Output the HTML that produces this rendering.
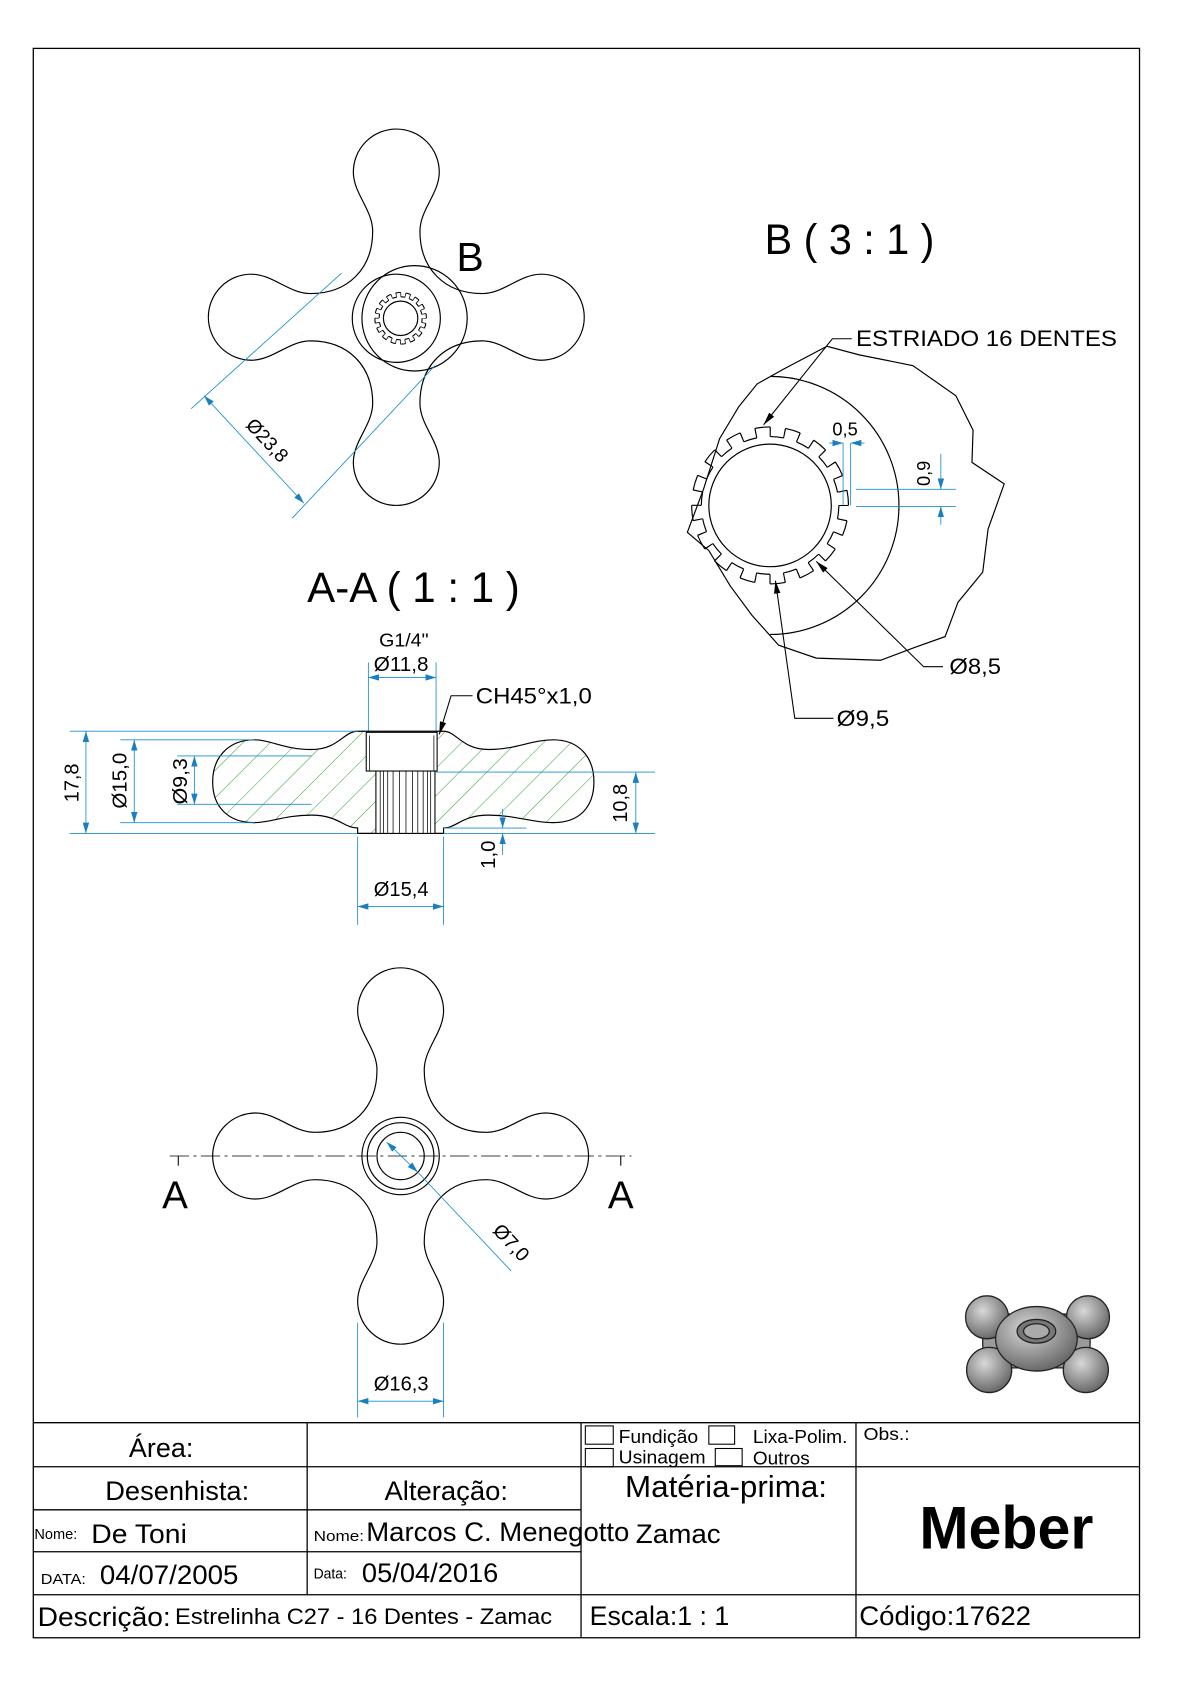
<!DOCTYPE html>
<html><head><meta charset="utf-8"><style>
html,body{margin:0;padding:0;background:#fff}
svg{display:block}
text{font-family:"Liberation Sans",Arial,sans-serif;fill:#000}
.b{fill:none;stroke:#000;stroke-width:1.1}
.d{fill:none;stroke:#1a8fd0;stroke-width:0.8}
</style></head><body>
<svg width="1190" height="1684" viewBox="0 0 1108 1566" preserveAspectRatio="none" xmlns="http://www.w3.org/2000/svg">
<defs>
<marker id="ar" viewBox="0 0 10 6" refX="10" refY="3" markerWidth="10" markerHeight="6" orient="auto-start-reverse" markerUnits="userSpaceOnUse"><path d="M0,0 L10,3 L0,6 Z" fill="#1a7fc0"/></marker>
<marker id="ak" viewBox="0 0 12 6" refX="12" refY="3" markerWidth="12" markerHeight="6" orient="auto" markerUnits="userSpaceOnUse"><path d="M0,0 L12,3 L0,6 Z" fill="#000"/></marker>
<pattern id="h" width="18" height="18" patternUnits="userSpaceOnUse" patternTransform="rotate(45)"><line x1="0" y1="0" x2="0" y2="18" stroke="#2a9a2a" stroke-width="0.9"/></pattern>
<path id="q" d="M0,-175 A40,40 0 0 1 40,-135 C40,-115 22,-100 22,-80 C22,-45 45,-22 80,-22 C100,-22 115,-40 135,-40 A40,40 0 0 1 175,0"/>
<radialGradient id="g3" cx="40%" cy="35%" r="65%"><stop offset="0" stop-color="#d8d8d8"/><stop offset="1" stop-color="#6a6a6a"/></radialGradient>
</defs>
<rect x="31" y="45" width="1030" height="1478" fill="none" stroke="#000" stroke-width="1.2"/>

<!-- Top view -->
<g transform="translate(369,295)" class="b">
<use href="#q"/><use href="#q" transform="rotate(90)"/><use href="#q" transform="rotate(180)"/><use href="#q" transform="rotate(270)"/>
</g>
<circle cx="369" cy="296" r="41" class="b"/>
<circle cx="386" cy="296" r="49" class="b"/>
<circle cx="373" cy="296" r="16" class="b"/>
<circle cx="373" cy="296" r="20" fill="none" stroke="#000" stroke-width="1" stroke-dasharray="3.93 3.93"/>
<circle cx="373" cy="296" r="24" fill="none" stroke="#000" stroke-width="1" stroke-dasharray="4.71 4.71" stroke-dashoffset="-4.71"/>
<circle cx="373" cy="296" r="22" fill="none" stroke="#000" stroke-width="4" stroke-dasharray="0.7 3.62" stroke-dashoffset="0.35"/>
<text x="425" y="252" font-size="38">B</text>
<line x1="178" y1="380" x2="318" y2="254" class="d"/>
<line x1="272" y1="482" x2="405" y2="340" class="d"/>
<line x1="190" y1="368" x2="283" y2="468" class="d" marker-start="url(#ar)" marker-end="url(#ar)"/>
<text transform="translate(228,396) rotate(47)" font-size="18" textLength="48" lengthAdjust="spacingAndGlyphs">Ø23,8</text>

<!-- B detail -->
<text x="712" y="236" font-size="40" textLength="158" lengthAdjust="spacingAndGlyphs">B ( 3 : 1 )</text>
<polygon class="b" points="688,378 705,357 730,343 770,322 800,330 850,340 890,368 906,400 905,430 935,450 920,492 915,532 892,560 880,592 852,602 820,614 760,612 725,600 700,572 680,545 660,512 640,495 655,455 670,408"/>
<path class="b" d="M717,350 A120,120 0 0 1 717,590"/>
<circle cx="717" cy="470" r="57" class="b"/>
<circle cx="717" cy="470" r="64" fill="none" stroke="#000" stroke-width="1.1" stroke-dasharray="12.57 12.57"/>
<circle cx="717" cy="470" r="73" fill="none" stroke="#000" stroke-width="1.1" stroke-dasharray="14.33 14.33" stroke-dashoffset="-14.33"/>
<circle cx="717" cy="470" r="68.5" fill="none" stroke="#000" stroke-width="9" stroke-dasharray="1.1 12.35" stroke-dashoffset="0.55"/>
<text x="797" y="322" font-size="21" textLength="243" lengthAdjust="spacingAndGlyphs">ESTRIADO 16 DENTES</text>
<polyline points="793,315 775,315 711,395" fill="none" stroke="#000" stroke-width="1" marker-end="url(#ak)"/>
<text x="884" y="627" font-size="21" textLength="48" lengthAdjust="spacingAndGlyphs">Ø8,5</text>
<polyline points="878,620 860,620 760,522" fill="none" stroke="#000" stroke-width="1" marker-end="url(#ak)"/>
<text x="779" y="675" font-size="21" textLength="49" lengthAdjust="spacingAndGlyphs">Ø9,5</text>
<polyline points="776,668 740,668 722,540" fill="none" stroke="#000" stroke-width="1" marker-end="url(#ak)"/>
<line x1="785" y1="412" x2="785" y2="470" class="d"/>
<line x1="792" y1="412" x2="792" y2="470" class="d"/>
<line x1="772" y1="412" x2="785" y2="412" class="d" marker-end="url(#ar)"/>
<line x1="805" y1="412" x2="792" y2="412" class="d" marker-end="url(#ar)"/>
<text x="775" y="405" font-size="17">0,5</text>
<line x1="797" y1="455" x2="890" y2="455" class="d"/>
<line x1="797" y1="471" x2="890" y2="471" class="d"/>
<line x1="876" y1="422" x2="876" y2="455" class="d" marker-end="url(#ar)"/>
<line x1="876" y1="488" x2="876" y2="471" class="d" marker-end="url(#ar)"/>
<text transform="translate(866,452) rotate(-90)" font-size="17">0,9</text>

<!-- Section A-A -->
<text x="286" y="560" font-size="40" textLength="198" lengthAdjust="spacingAndGlyphs">A-A ( 1 : 1 )</text>
<text x="353" y="601" font-size="17" textLength="46" lengthAdjust="spacingAndGlyphs">G1/4"</text>
<text x="348" y="624" font-size="19" textLength="51" lengthAdjust="spacingAndGlyphs">Ø11,8</text>
<line x1="343" y1="616" x2="343" y2="680" class="d"/>
<line x1="406" y1="616" x2="406" y2="680" class="d"/>
<line x1="343" y1="630" x2="406" y2="630" class="d" marker-start="url(#ar)" marker-end="url(#ar)"/>
<text x="443" y="654" font-size="21" textLength="108" lengthAdjust="spacingAndGlyphs">CH45°x1,0</text>
<polyline points="440,647 420,647 409,683" fill="none" stroke="#000" stroke-width="1" marker-end="url(#ak)"/>
<path d="M333,680 L413,680 C425,680 430,697 455,697 C480,697 495,688 515,688 C540,688 553,705 553,727 C553,750 540,765 515,765 C495,765 480,758 455,758 C430,758 425,770 413,770 L413,775 L333,775 L333,770 C320,770 315,758 290,758 C265,758 252,765 237,765 C212,765 198,750 198,727 C198,705 212,688 237,688 C252,688 265,697 290,697 C315,697 320,680 333,680 Z" fill="url(#h)" stroke="#000" stroke-width="1.1"/>
<rect x="341" y="681" width="66" height="36" fill="#fff" stroke="#000" stroke-width="1"/>
<line x1="344" y1="684" x2="344" y2="717" stroke="#000" stroke-width="0.7"/>
<line x1="404" y1="684" x2="404" y2="717" stroke="#000" stroke-width="0.7"/>
<rect x="350" y="717" width="55" height="58" fill="#fff" stroke="#000" stroke-width="1"/>
<g stroke="#000" stroke-width="0.7">
<line x1="354" y1="717" x2="354" y2="775"/><line x1="357" y1="717" x2="357" y2="775"/><line x1="361" y1="717" x2="361" y2="775"/><line x1="366" y1="717" x2="366" y2="775"/><line x1="372" y1="717" x2="372" y2="775"/><line x1="378" y1="717" x2="378" y2="775"/><line x1="384" y1="717" x2="384" y2="775"/><line x1="389" y1="717" x2="389" y2="775"/><line x1="394" y1="717" x2="394" y2="775"/><line x1="398" y1="717" x2="398" y2="775"/><line x1="401" y1="717" x2="401" y2="775"/>
</g>
<line x1="65" y1="680" x2="333" y2="680" class="d"/>
<line x1="65" y1="775" x2="333" y2="775" class="d"/>
<line x1="112" y1="688" x2="237" y2="688" class="d"/>
<line x1="112" y1="765" x2="237" y2="765" class="d"/>
<line x1="165" y1="703" x2="290" y2="703" class="d"/>
<line x1="165" y1="748" x2="290" y2="748" class="d"/>
<line x1="80" y1="680" x2="80" y2="775" class="d" marker-start="url(#ar)" marker-end="url(#ar)"/>
<line x1="125" y1="688" x2="125" y2="765" class="d" marker-start="url(#ar)" marker-end="url(#ar)"/>
<line x1="181" y1="703" x2="181" y2="748" class="d" marker-start="url(#ar)" marker-end="url(#ar)"/>
<text transform="translate(73,746) rotate(-90)" font-size="19" textLength="36" lengthAdjust="spacingAndGlyphs">17,8</text>
<text transform="translate(118,752) rotate(-90)" font-size="19" textLength="52" lengthAdjust="spacingAndGlyphs">Ø15,0</text>
<text transform="translate(174,748) rotate(-90)" font-size="19" textLength="43" lengthAdjust="spacingAndGlyphs">Ø9,3</text>
<line x1="405" y1="718" x2="610" y2="718" class="d"/>
<line x1="413" y1="775" x2="610" y2="775" class="d"/>
<line x1="592" y1="718" x2="592" y2="775" class="d" marker-start="url(#ar)" marker-end="url(#ar)"/>
<text transform="translate(584,765) rotate(-90)" font-size="19" textLength="36" lengthAdjust="spacingAndGlyphs">10,8</text>
<line x1="413" y1="770" x2="490" y2="770" class="d"/>
<line x1="468" y1="752" x2="468" y2="770" class="d" marker-end="url(#ar)"/>
<line x1="468" y1="795" x2="468" y2="775" class="d" marker-end="url(#ar)"/>
<text transform="translate(461,808) rotate(-90)" font-size="19">1,0</text>
<line x1="333" y1="778" x2="333" y2="860" class="d"/>
<line x1="413" y1="778" x2="413" y2="860" class="d"/>
<line x1="333" y1="843" x2="413" y2="843" class="d" marker-start="url(#ar)" marker-end="url(#ar)"/>
<text x="348" y="833" font-size="19" textLength="51" lengthAdjust="spacingAndGlyphs">Ø15,4</text>

<!-- Bottom view -->
<g transform="translate(373,1075)" class="b">
<use href="#q"/><use href="#q" transform="rotate(90)"/><use href="#q" transform="rotate(180)"/><use href="#q" transform="rotate(270)"/>
</g>
<circle cx="373" cy="1075" r="36" class="b"/>
<circle cx="373" cy="1075" r="31" class="b"/>
<circle cx="373" cy="1075" r="22" class="b"/>
<line x1="158" y1="1075" x2="588" y2="1075" stroke="#000" stroke-width="0.8" stroke-dasharray="18 4 3 4"/>
<line x1="166" y1="1075" x2="166" y2="1084" stroke="#000" stroke-width="1"/>
<line x1="578" y1="1075" x2="578" y2="1084" stroke="#000" stroke-width="1"/>
<text x="151" y="1124" font-size="36">A</text>
<text x="566" y="1124" font-size="36">A</text>
<line x1="360" y1="1062" x2="389" y2="1090" class="d" marker-start="url(#ar)" marker-end="url(#ar)"/>
<line x1="389" y1="1090" x2="476" y2="1182" class="d"/>
<text transform="translate(458,1145) rotate(47)" font-size="18" textLength="40" lengthAdjust="spacingAndGlyphs">Ø7,0</text>
<line x1="333" y1="1230" x2="333" y2="1318" class="d"/>
<line x1="413" y1="1230" x2="413" y2="1318" class="d"/>
<line x1="333" y1="1303" x2="413" y2="1303" class="d" marker-start="url(#ar)" marker-end="url(#ar)"/>
<text x="348" y="1293" font-size="19" textLength="51" lengthAdjust="spacingAndGlyphs">Ø16,3</text>

<!-- 3D -->
<g stroke="#222" stroke-width="1.2" fill="url(#g3)">
<rect x="915" y="1222" width="100" height="50" rx="22" fill="#9a9a9a"/>
<circle cx="919" cy="1225" r="20"/><circle cx="1013" cy="1225" r="20"/>
<circle cx="921" cy="1274" r="21"/><circle cx="1011" cy="1274" r="21"/>
<ellipse cx="965" cy="1245" rx="38" ry="30"/>
<ellipse cx="965" cy="1238" rx="18" ry="11" fill="#777"/>
<ellipse cx="965" cy="1238" rx="12" ry="7" fill="#aaa"/>
</g>

<!-- Title block -->
<g stroke="#000" stroke-width="1.2" fill="none">
<line x1="31" y1="1323" x2="1061" y2="1323"/>
<line x1="31" y1="1364" x2="1061" y2="1364"/>
<line x1="31" y1="1404" x2="541" y2="1404"/>
<line x1="31" y1="1443" x2="541" y2="1443"/>
<line x1="31" y1="1483" x2="1061" y2="1483"/>
<line x1="286" y1="1323" x2="286" y2="1483"/>
<line x1="541" y1="1323" x2="541" y2="1523"/>
<line x1="797" y1="1323" x2="797" y2="1523"/>
<rect x="545" y="1326" width="26" height="17" stroke-width="1"/>
<rect x="545" y="1347" width="26" height="17" stroke-width="1"/>
<rect x="660" y="1326" width="24" height="17" stroke-width="1"/>
<rect x="666" y="1347" width="25" height="16" stroke-width="1"/>
</g>
<text x="120" y="1355" font-size="25" textLength="60" lengthAdjust="spacingAndGlyphs">Área:</text>
<text x="576" y="1342" font-size="17" textLength="74" lengthAdjust="spacingAndGlyphs">Fundição</text>
<text x="701" y="1342" font-size="17" textLength="88" lengthAdjust="spacingAndGlyphs">Lixa-Polim.</text>
<text x="576" y="1361" font-size="17" textLength="81" lengthAdjust="spacingAndGlyphs">Usinagem</text>
<text x="701" y="1362" font-size="17" textLength="53" lengthAdjust="spacingAndGlyphs">Outros</text>
<text x="804" y="1339" font-size="16" textLength="43" lengthAdjust="spacingAndGlyphs">Obs.:</text>
<text x="98" y="1395" font-size="25" textLength="134" lengthAdjust="spacingAndGlyphs">Desenhista:</text>
<text x="358" y="1395" font-size="25" textLength="115" lengthAdjust="spacingAndGlyphs">Alteração:</text>
<text x="582" y="1392" font-size="28" textLength="188" lengthAdjust="spacingAndGlyphs">Matéria-prima:</text>
<text x="32" y="1431" font-size="14" textLength="40" lengthAdjust="spacingAndGlyphs">Nome:</text>
<text x="85" y="1435" font-size="25" textLength="89" lengthAdjust="spacingAndGlyphs">De Toni</text>
<text x="292" y="1433" font-size="14" textLength="47" lengthAdjust="spacingAndGlyphs">Nome:</text>
<text x="341" y="1433" font-size="25" textLength="245" lengthAdjust="spacingAndGlyphs">Marcos C. Menegotto</text>
<text x="592" y="1435" font-size="25" textLength="79" lengthAdjust="spacingAndGlyphs">Zamac</text>
<text x="856" y="1440" font-size="56" font-weight="bold" textLength="162" lengthAdjust="spacingAndGlyphs">Meber</text>
<text x="38" y="1473" font-size="14" textLength="42" lengthAdjust="spacingAndGlyphs">DATA:</text>
<text x="93" y="1473" font-size="25" textLength="129" lengthAdjust="spacingAndGlyphs">04/07/2005</text>
<text x="292" y="1468" font-size="14" textLength="31" lengthAdjust="spacingAndGlyphs">Data:</text>
<text x="337" y="1471" font-size="25" textLength="127" lengthAdjust="spacingAndGlyphs">05/04/2016</text>
<text x="35" y="1512" font-size="25" textLength="124" lengthAdjust="spacingAndGlyphs">Descrição:</text>
<text x="163" y="1510" font-size="21" textLength="351" lengthAdjust="spacingAndGlyphs">Estrelinha C27 - 16 Dentes - Zamac</text>
<text x="549" y="1511" font-size="25" textLength="130" lengthAdjust="spacingAndGlyphs">Escala:1 : 1</text>
<text x="800" y="1511" font-size="25" textLength="160" lengthAdjust="spacingAndGlyphs">Código:17622</text>
</svg>
</body></html>
